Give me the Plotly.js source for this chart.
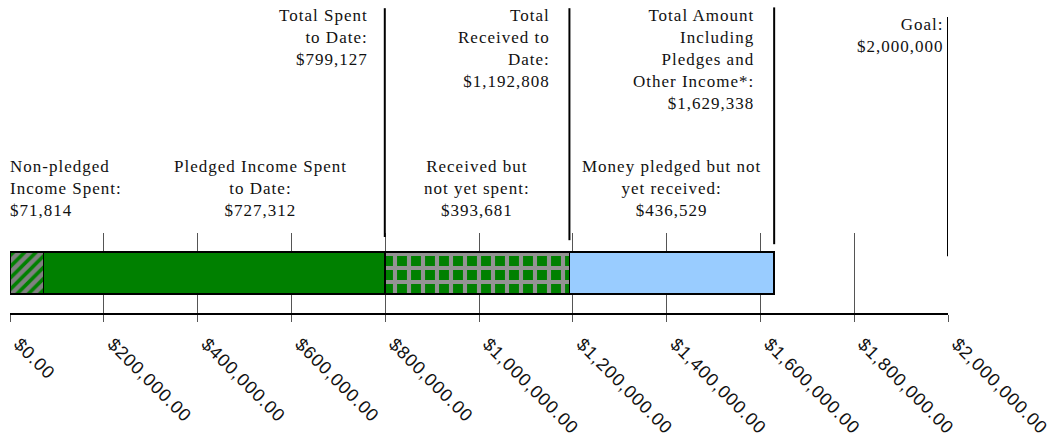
<!DOCTYPE html>
<html>
<head>
<meta charset="utf-8">
<script src="https://cdn.plot.ly/plotly-3.0.1.min.js"></script>
<style>
  html, body { margin: 0; padding: 0; background: #fff; }
  #chart { width: 1061px; height: 443px; }
  .annotation-text { letter-spacing: 1px; }
  .xtick text { letter-spacing: 0.9px; }
</style>
</head>
<body>
<div id="chart"></div>
<script>
// ---- data ----
const segmentNames = ["Non-pledged Income Spent", "Pledged Income Spent to Date", "Received but not yet spent", "Money pledged but not yet received"];
const segmentValues = [71814, 727312, 393681, 436529];
const segmentLabels = [
  "Non-pledged<br>Income Spent:<br>$71,814",
  "Pledged Income Spent<br>to Date:<br>$727,312",
  "Received but<br>not yet spent:<br>$393,681",
  "Money pledged but not<br>yet received:<br>$436,529"
];
const milestoneValues = [799127, 1192808, 1629338, 2000000];
const milestoneLabels = [
  "Total Spent<br>to Date:<br>$799,127",
  "Total<br>Received to<br>Date:<br>$1,192,808",
  "Total Amount<br>Including<br>Pledges and<br>Other Income*:<br>$1,629,338",
  "Goal:<br>$2,000,000"
];
const tickValues = [0, 200000, 400000, 600000, 800000, 1000000, 1200000, 1400000, 1600000, 1800000, 2000000];

// ---- styles ----
const segmentColors = ["#808080", "#008000", "#008000", "#99CCFF"];
const segmentPatterns = [
  {shape: "/", fgcolor: "#008000", bgcolor: "#808080", size: 8, solidity: 0.45, fillmode: "replace"},
  null,
  {shape: "+", fgcolor: "#939393", bgcolor: "#008000", size: 14, solidity: 0.5, fillmode: "replace"},
  null
];

const traces = segmentValues.map((v, i) => {
  const m = {color: segmentColors[i], line: {color: "#000", width: 1.5}};
  if (segmentPatterns[i]) m.pattern = segmentPatterns[i];
  return {
    type: "bar", orientation: "h", name: segmentNames[i],
    x: [v], y: ["funds"], width: 0.52, marker: m,
    hoverinfo: "name+x", showlegend: false
  };
});

const serif = {family: "Liberation Serif, Times New Roman, serif", size: 17, color: "#111"};

// segment labels: centred over their segment, except the first (left aligned)
const segXShift = [-2, 46, 0, 0];
let cum = 0;
const annotations = [];
segmentValues.forEach((v, i) => {
  const mid = cum + v / 2;
  const start = cum;
  cum += v;
  annotations.push({
    text: segmentLabels[i], x: i === 0 ? start : mid, xref: "x", y: 1.97, yref: "paper",
    xanchor: i === 0 ? "left" : "center", yanchor: "top", align: i === 0 ? "left" : "center",
    showarrow: false, font: serif, xshift: segXShift[i]
  });
});

const msTop = [3.86, 3.86, 3.86, 3.75];
const lineTop = [3.81, 3.81, 3.82, 3.70];
const lineBot = [0.95, 0.91, 0.86, 0.71];
const msShift = [-15, -17, -18, -2];
const shapes = [];
milestoneValues.forEach((v, i) => {
  annotations.push({
    text: milestoneLabels[i], x: v, xref: "x", y: msTop[i], yref: "paper",
    xanchor: "right", yanchor: "top", align: "right", showarrow: false,
    font: serif, xshift: msShift[i]
  });
  shapes.push({
    type: "line", xref: "x", yref: "paper", x0: v, x1: v,
    y0: lineBot[i], y1: lineTop[i], line: {color: "#000", width: 2}
  });
});

const layout = {
  width: 1061, height: 443,
  margin: {l: 10, r: 113, t: 233, b: 130},
  paper_bgcolor: "#fff", plot_bgcolor: "#fff",
  barmode: "stack", bargap: 0,
  xaxis: {
    range: [0, 2000000], tickvals: tickValues, tickformat: "$,.2f",
    tickangle: 45, ticks: "outside", ticklen: 7, tickcolor: "#555", tickwidth: 1,
    ticklabelstandoff: 5, ticklabelshift: 9,
    showgrid: true, gridcolor: "#555", gridwidth: 1,
    showline: true, linecolor: "#000", linewidth: 1.5,
    zeroline: false, fixedrange: true,
    tickfont: {family: "Liberation Sans, Arial, sans-serif", size: 18, color: "#111"}
  },
  yaxis: {
    range: [-0.5, 0.5], showticklabels: false, showgrid: false, zeroline: false,
    showline: false, ticks: "", fixedrange: true
  },
  annotations: annotations,
  shapes: shapes,
  showlegend: false
};

Plotly.newPlot("chart", traces, layout, {displayModeBar: false, staticPlot: true});
</script>
</body>
</html>
